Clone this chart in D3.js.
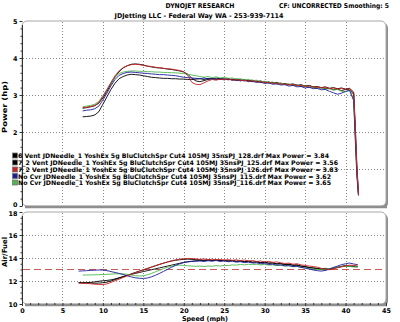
<!DOCTYPE html>
<html>
<head>
<meta charset="utf-8">
<script src="https://cdn.jsdelivr.net/npm/d3@7"></script>
<style>
  html, body { margin: 0; padding: 0; background: #ffffff; }
  svg text { font-family: "DejaVu Sans", Verdana, sans-serif; font-weight: bold; fill: #000; }
</style>
</head>
<body>
<svg id="chart" width="400" height="322"></svg>
<script>
// ---- run data ----------------------------------------------------------
const runNames = [
  "6 Vent JDNeedle_1 YoshEx 5g BluClutchSpr Cut4 105MJ 35nsPJ_128.drf",
  "7_2 Vent JDNeedle_1 YoshEx 5g BluClutchSpr Cut4 105MJ 35nsPJ_125.drf",
  "7_2 Vent JDNeedle_1 YoshEx 5g BluClutchSpr Cut4 105MJ 35nsPJ_126.drf",
  "No Cvr JDNeedle_1 YoshEx 5g BluClutchSpr Cut4 105MJ 35nsPJ_115.drf",
  "No Cvr JDNeedle_1 YoshEx 5g BluClutchSpr Cut4 105MJ 35nsPJ_116.drf"
];
const maxPower = [3.84, 3.56, 3.83, 3.62, 3.65];
const runColors = ["#000000", "#000000", "#cc2222", "#1c1c9c", "#4cb84c"];

// speed samples for the power traces (mph)
const powerSpeed = [7.5,8,8.5,9,9.5,10,10.5,11,11.5,12,12.5,13,13.5,14,14.5,15,15.5,16,16.5,17,
  17.5,18,18.5,19,19.5,20,20.5,21,21.5,22,22.5,23,23.5,24,24.5,25,25.5,26,26.5,27,
  27.5,28,28.5,29,29.5,30,30.5,31,31.5,32,32.5,33,33.5,34,34.5,35,35.5,36,36.5,37,
  37.5,38,38.5,39,39.5,40,40.5,41,41.2,41.4,41.6];

// power (hp)
const power128 = [2.64,2.66,2.68,2.71,2.78,2.92,3.10,3.30,3.49,3.63,
  3.73,3.79,3.83,3.84,3.83,3.81,3.78,3.76,3.74,3.73,
  3.72,3.70,3.69,3.67,3.65,3.62,3.56,3.45,3.38,3.36,
  3.39,3.42,3.44,3.42,3.45,3.42,3.44,3.41,3.43,3.40,
  3.41,3.38,3.40,3.36,3.38,3.34,3.35,3.32,3.34,3.30,
  3.31,3.28,3.30,3.26,3.28,3.24,3.26,3.22,3.23,3.20,
  3.22,3.18,3.20,3.17,3.19,3.16,3.18,3.08,2.20,1.10,0.35];
const power125 = [2.41,2.42,2.43,2.46,2.55,2.75,2.95,3.15,3.32,3.44,
  3.50,3.54,3.56,3.55,3.54,3.52,3.50,3.48,3.47,3.46,
  3.45,3.45,3.44,3.44,3.43,3.43,3.42,3.42,3.43,3.44,
  3.42,3.45,3.43,3.46,3.42,3.44,3.41,3.43,3.39,3.41,
  3.38,3.40,3.36,3.38,3.34,3.36,3.32,3.34,3.30,3.32,
  3.28,3.29,3.26,3.27,3.23,3.25,3.21,3.22,3.19,3.20,
  3.17,3.18,3.14,3.16,3.12,3.15,3.14,3.02,2.00,0.95,0.30];
const power126 = [2.66,2.67,2.69,2.72,2.80,2.96,3.14,3.34,3.52,3.65,
  3.74,3.79,3.82,3.83,3.82,3.80,3.78,3.77,3.75,3.74,
  3.72,3.71,3.70,3.68,3.66,3.63,3.52,3.34,3.29,3.28,
  3.33,3.38,3.42,3.40,3.43,3.41,3.44,3.40,3.42,3.39,
  3.40,3.37,3.39,3.35,3.37,3.33,3.35,3.31,3.33,3.29,
  3.30,3.27,3.29,3.25,3.26,3.23,3.25,3.21,3.22,3.19,
  3.21,3.17,3.19,3.16,3.18,3.15,3.17,3.05,2.10,1.00,0.30];
const power115 = [2.57,2.59,2.60,2.63,2.70,2.86,3.05,3.25,3.42,3.53,
  3.58,3.61,3.62,3.61,3.60,3.59,3.58,3.57,3.56,3.55,
  3.55,3.54,3.53,3.52,3.50,3.48,3.47,3.46,3.45,3.44,
  3.46,3.43,3.45,3.42,3.44,3.41,3.43,3.40,3.41,3.38,
  3.40,3.36,3.37,3.34,3.35,3.31,3.33,3.29,3.30,3.27,
  3.28,3.24,3.26,3.22,3.23,3.19,3.21,3.17,3.18,3.14,
  3.15,3.10,3.06,3.02,3.05,3.10,3.12,2.85,1.80,0.80,0.28];
const power116 = [2.68,2.70,2.72,2.75,2.83,2.98,3.15,3.33,3.48,3.58,
  3.62,3.64,3.65,3.65,3.64,3.64,3.63,3.63,3.62,3.62,
  3.61,3.61,3.60,3.60,3.59,3.58,3.56,3.54,3.52,3.50,
  3.48,3.50,3.47,3.49,3.46,3.48,3.45,3.46,3.43,3.44,
  3.41,3.42,3.39,3.40,3.36,3.37,3.34,3.35,3.31,3.32,
  3.29,3.30,3.26,3.27,3.24,3.25,3.21,3.22,3.18,3.19,
  3.16,3.17,3.13,3.15,3.10,3.08,3.14,2.90,1.90,0.90,0.30];

// speed samples for the air/fuel traces (mph)
const afrSpeed = [7,7.5,8,8.5,9,9.5,10,10.5,11,11.5,12,12.5,13,13.5,14,14.5,15,15.5,16,16.5,
  17,17.5,18,18.5,19,19.5,20,20.5,21,21.5,22,22.5,23,23.5,24,24.5,25,25.5,26,26.5,
  27,27.5,28,28.5,29,29.5,30,30.5,31,31.5,32,32.5,33,33.5,34,34.5,35,35.5,36,36.5,
  37,37.5,38,38.5,39,39.5,40,40.5,41,41.5];

const afr128 = [11.85,11.84,11.83,11.82,11.80,11.82,11.85,11.90,12.00,12.12,
  12.25,12.38,12.50,12.62,12.74,12.86,12.97,13.08,13.20,13.32,
  13.44,13.55,13.65,13.74,13.80,13.85,13.88,13.90,13.88,13.86,
  13.84,13.80,13.85,13.78,13.82,13.76,13.80,13.74,13.78,13.72,
  13.74,13.68,13.72,13.64,13.68,13.60,13.64,13.56,13.58,13.50,
  13.52,13.44,13.46,13.38,13.40,13.30,13.26,13.18,13.14,13.10,
  13.06,13.10,13.04,13.12,13.20,13.28,13.34,13.30,13.26,13.22];
const afr125 = [11.86,11.85,11.86,11.88,11.92,11.98,12.02,12.05,12.10,12.18,
  12.28,12.38,12.48,12.58,12.66,12.74,12.82,12.90,12.98,13.06,
  13.14,13.22,13.30,13.38,13.46,13.54,13.62,13.68,13.72,13.76,
  13.80,13.76,13.82,13.78,13.84,13.76,13.80,13.74,13.78,13.70,
  13.74,13.66,13.70,13.62,13.66,13.58,13.62,13.54,13.56,13.48,
  13.50,13.42,13.44,13.36,13.38,13.28,13.24,13.16,13.12,13.06,
  13.00,12.96,13.02,13.10,13.18,13.24,13.30,13.26,13.30,13.28];
const afr126 = [11.82,11.80,11.79,11.76,11.72,11.70,11.69,11.75,11.88,12.02,
  12.16,12.30,12.44,12.58,12.72,12.86,12.98,13.10,13.22,13.34,
  13.45,13.56,13.66,13.76,13.84,13.90,13.94,13.96,13.95,13.92,
  13.88,13.92,13.86,13.90,13.84,13.88,13.82,13.86,13.80,13.84,
  13.78,13.82,13.75,13.78,13.70,13.74,13.66,13.70,13.62,13.66,
  13.58,13.52,13.56,13.46,13.50,13.40,13.36,13.30,13.26,13.20,
  13.10,13.02,12.98,13.06,13.15,13.24,13.32,13.38,13.35,13.40];
const afr115 = [12.86,12.88,12.90,12.92,12.94,12.96,12.95,12.90,12.82,12.74,
  12.66,12.56,12.46,12.36,12.28,12.24,12.22,12.26,12.36,12.50,
  12.66,12.84,13.02,13.20,13.36,13.50,13.60,13.66,13.70,13.72,
  13.74,13.70,13.76,13.72,13.78,13.70,13.74,13.68,13.72,13.64,
  13.68,13.60,13.64,13.56,13.58,13.50,13.52,13.44,13.46,13.38,
  13.40,13.32,13.34,13.26,13.28,13.18,13.12,13.04,12.96,12.90,
  12.86,12.92,13.04,13.18,13.30,13.42,13.50,13.56,13.48,13.42];
const afr116 = [null,12.52,12.52,12.53,12.54,12.55,12.56,12.58,12.60,12.62,
  12.63,12.62,12.58,12.52,12.46,12.44,12.46,12.54,12.66,12.80,
  12.94,13.08,13.20,13.30,13.36,13.38,13.36,13.32,13.30,13.28,
  13.30,13.26,13.30,13.28,13.34,13.30,13.36,13.34,13.40,13.38,
  13.44,13.40,13.46,13.42,13.46,13.40,13.44,13.38,13.40,13.34,
  13.36,13.30,13.32,13.24,13.26,13.18,13.14,13.08,13.04,13.00,
  12.98,13.02,13.08,13.14,13.20,13.26,13.30,13.26,13.22,13.25];

const afrTarget = 13.0;

const speedTicks = [0,5,10,15,20,25,30,35,40,45];
const powerTicks = [0,1,2,3,4,5];
const afrTicks = [10,12,14,16,18];

// ---- layout -------------------------------------------------------------
const svg = d3.select("#chart");
const X0 = 22, X1 = 386;
const P = { top: 21, bottom: 206 };
const A = { top: 212, bottom: 304 };

const x = d3.scaleLinear().domain([0, 45]).range([X0, X1]);
const yP = d3.scaleLinear().domain([0, 5]).range([P.bottom, P.top]);
const yA = d3.scaleLinear().domain([10, 18]).range([A.bottom, A.top]);

// header texts
function fitText(sel, width) {
  sel.attr("textLength", width).attr("lengthAdjust", "spacingAndGlyphs");
}
svg.append("text").attr("x", 200).attr("y", 8).attr("text-anchor", "middle")
  .style("font-size", "6.6px").text("DYNOJET RESEARCH").call(fitText, 69);
svg.append("text").attr("x", 279).attr("y", 8)
  .style("font-size", "6.6px").text("CF: UNCORRECTED  Smoothing: 5").call(fitText, 110);
svg.append("text").attr("x", 199).attr("y", 18).attr("text-anchor", "middle")
  .style("font-size", "6.6px").text("JDJetting LLC  - Federal Way WA - 253-939-7114").call(fitText, 169);

// panel frames with drop shadow
function panel(top, bottom) {
  svg.append("rect").attr("x", X0 + 2).attr("y", top + 2)
    .attr("width", X1 - X0).attr("height", bottom - top).attr("rx", 5)
    .attr("fill", "#8e8e8e");
  svg.append("rect").attr("x", X0).attr("y", top)
    .attr("width", X1 - X0).attr("height", bottom - top).attr("rx", 5)
    .attr("fill", "#ffffff").attr("stroke", "#a8a8a8").attr("stroke-width", 1);
}
panel(P.top, P.bottom);
panel(A.top, A.bottom);

// dotted grid
const gridStyle = g => g.attr("stroke", "#6a6a6a").attr("stroke-width", 0.8)
  .attr("stroke-dasharray", "1,2").attr("fill", "none");
function grid(yScale, yVals, top, bottom) {
  const g = svg.append("g").call(gridStyle);
  g.selectAll(".v").data(speedTicks.filter(d => d > 0 && d < 45)).join("line")
    .attr("x1", d => Math.round(x(d)) + 0.5).attr("x2", d => Math.round(x(d)) + 0.5)
    .attr("y1", top + 1).attr("y2", bottom - 1);
  g.selectAll(".h").data(yVals).join("line")
    .attr("x1", X0 + 1).attr("x2", X1 - 1)
    .attr("y1", d => Math.round(yScale(d)) + 0.5).attr("y2", d => Math.round(yScale(d)) + 0.5);
}
grid(yP, [1, 2, 3, 4], P.top, P.bottom);
grid(yA, [12, 14, 16], A.top, A.bottom);

// bottom bands of panels
svg.append("line").attr("x1", X0 + 3).attr("x2", X1 + 1).attr("y1", P.bottom + 1).attr("y2", P.bottom + 1)
  .attr("stroke", "#8e8e8e").attr("stroke-width", 2.5);
svg.append("line").attr("x1", X0 + 3).attr("x2", X1 + 1).attr("y1", A.bottom + 1).attr("y2", A.bottom + 1)
  .attr("stroke", "#8e8e8e").attr("stroke-width", 2.5);

// left axes with major and minor ticks
function leftAxis(yScale, ticks, minorStep, top, bottom, shiftFn) {
  const [lo, hi] = yScale.domain();
  const minor = d3.range(lo, hi + 1e-9, minorStep).filter(v => !ticks.some(t => Math.abs(t - v) < 1e-6));
  const gMinor = svg.append("g").attr("transform", `translate(${X0 + 0.5},0)`)
    .call(d3.axisLeft(yScale).tickValues(minor).tickSize(2).tickFormat(""));
  gMinor.select(".domain").remove();
  gMinor.selectAll("line").attr("stroke", "#333");
  const g = svg.append("g").attr("transform", `translate(${X0 + 0.5},0)`)
    .call(d3.axisLeft(yScale).tickValues(ticks).tickSize(3).tickPadding(2).tickFormat(d3.format("d")));
  g.select(".domain").attr("d", `M0,${top + 4}V${bottom}`).attr("stroke", "#333");
  g.selectAll("line").attr("stroke", "#333");
  g.selectAll("text").style("font-size", "6.4px").style("font-family", '"DejaVu Sans", sans-serif')
    .style("font-weight", "bold").attr("dy", d => shiftFn(d));
}
// the lowest power label and the highest air/fuel label sit close together,
// so nudge them apart slightly
leftAxis(yP, powerTicks, 0.2, P.top, P.bottom, d => d === 0 ? "0.15em" : "0.32em");
leftAxis(yA, afrTicks, 0.5, A.top, A.bottom, d => d === 18 ? "0.55em" : "0.32em");

// speed axis
const minorSpeed = d3.range(1, 45).filter(v => v % 5 !== 0);
const gxm = svg.append("g").attr("transform", `translate(0,${A.bottom})`)
  .call(d3.axisBottom(x).tickValues(minorSpeed).tickSize(2).tickFormat(""));
gxm.select(".domain").remove();
gxm.selectAll("line").attr("stroke", "#333").attr("transform", "translate(0,-1)");
const gx = svg.append("g").attr("transform", `translate(0,${A.bottom})`)
  .call(d3.axisBottom(x).tickValues(speedTicks).tickSize(3).tickPadding(1).tickFormat(d3.format("d")));
gx.select(".domain").remove();
gx.selectAll("line").attr("stroke", "#333").attr("transform", "translate(0,-1)");
gx.selectAll("text").style("font-size", "6.4px").style("font-family", '"DejaVu Sans", sans-serif')
  .style("font-weight", "bold");

// axis titles
svg.append("text").attr("transform", "translate(7,107) rotate(-90)").attr("text-anchor", "middle")
  .style("font-size", "7px").text("Power (hp)").call(fitText, 52);
svg.append("text").attr("transform", "translate(7,252) rotate(-90)").attr("text-anchor", "middle")
  .style("font-size", "7px").text("Air/Fuel").call(fitText, 30);
svg.append("text").attr("x", 205).attr("y", 320.5).attr("text-anchor", "middle")
  .style("font-size", "6.6px").text("Speed (mph)").call(fitText, 46);

// target air/fuel line
svg.append("line").attr("x1", X0 + 1).attr("x2", X1 - 1)
  .attr("y1", yA(afrTarget)).attr("y2", yA(afrTarget))
  .attr("stroke", "#c85a5a").attr("stroke-width", 1).attr("stroke-dasharray", "7,4");

// traces
const powerRuns = [power128, power125, power126, power115, power116];
const afrRuns = [afr128, afr125, afr126, afr115, afr116];
const drawOrder = [0, 1, 4, 3, 2];

const powerLine = d3.line().x((d, i) => x(powerSpeed[i])).y(d => yP(d));
const afrLine = d3.line().defined(d => d != null).x((d, i) => x(afrSpeed[i])).y(d => yA(d));

drawOrder.forEach(k => {
  svg.append("path").datum(powerRuns[k]).attr("d", powerLine)
    .attr("fill", "none").attr("stroke", runColors[k]).attr("stroke-width", 0.9)
    .attr("stroke-linejoin", "round");
  svg.append("path").datum(afrRuns[k]).attr("d", afrLine)
    .attr("fill", "none").attr("stroke", runColors[k]).attr("stroke-width", 0.9)
    .attr("stroke-linejoin", "round");
});

// legend
const legendY = [156, 163, 170, 176.5, 183];
const legendWidth = [311, 320, 320, 313, 313];
const lg = svg.append("g");
runNames.forEach((name, i) => {
  lg.append("rect").attr("x", 12.5).attr("y", legendY[i] - 3).attr("width", 5).attr("height", 5)
    .attr("fill", runColors[i]).attr("stroke", "#777").attr("stroke-width", 0.8);
  lg.append("text").attr("x", 18).attr("y", legendY[i] + 2.4)
    .style("font-size", "6.3px")
    .text(`${name} Max Power = ${maxPower[i].toFixed(2)}`)
    .call(fitText, legendWidth[i]);
});
</script>
</body>
</html>
